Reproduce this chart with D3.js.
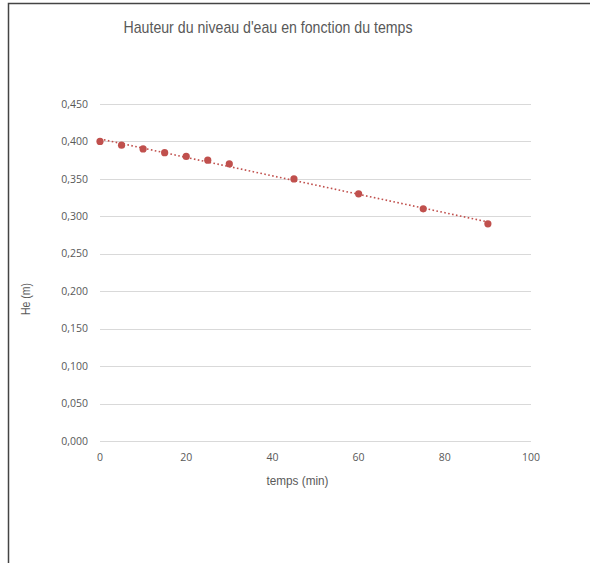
<!DOCTYPE html>
<html>
<head>
<meta charset="utf-8">
<script src="https://cdn.jsdelivr.net/npm/d3@7"></script>
<style>
  body { margin: 0; background: #fff; }
  svg { display: block; }
</style>
</head>
<body>
<svg id="chart" width="590" height="563"></svg>
<script>
// temps (min) et hauteur d'eau (m)
const temps = [0, 5, 10, 15, 20, 25, 30, 45, 60, 75, 90];
const hauteur = [0.400, 0.395, 0.390, 0.385, 0.380, 0.375, 0.370, 0.350, 0.330, 0.310, 0.290];
const xTicks = [0, 20, 40, 60, 80, 100];
const yTicks = [0, 0.05, 0.1, 0.15, 0.2, 0.25, 0.3, 0.35, 0.4, 0.45];

const svg = d3.select("#chart");
const red = "#c0504d";
const narrow = "Liberation Sans, Arial, sans-serif";

// cadre du graphique
svg.append("rect")
    .attr("x", 8.5).attr("y", 3.5)
    .attr("width", 600).attr("height", 600)
    .attr("fill", "none")
    .attr("stroke", "#444")
    .attr("stroke-width", 1.5);

const x = d3.scaleLinear().domain([0, 100]).range([100, 531]);
const y = d3.scaleLinear().domain([0, 0.45]).range([441, 104]);

// grille horizontale
svg.append("g")
    .selectAll("line")
    .data(yTicks)
    .join("line")
    .attr("x1", x(0)).attr("x2", x(100))
    .attr("y1", d => Math.round(y(d)) + 0.5)
    .attr("y2", d => Math.round(y(d)) + 0.5)
    .attr("stroke", "#d9d9d9")
    .attr("stroke-width", 1);

const fmt = d => d.toFixed(3).replace(".", ",");

svg.append("g")
    .selectAll("text")
    .data(yTicks)
    .join("text")
    .attr("x", 88)
    .attr("y", d => y(d))
    .attr("dy", "0.35em")
    .attr("text-anchor", "end")
    .attr("font-family", "Open Sans, sans-serif")
    .attr("font-size", 10.5)
    .attr("fill", "#595959")
    .text(fmt);

svg.append("g")
    .selectAll("text")
    .data(xTicks)
    .join("text")
    .attr("x", d => x(d))
    .attr("y", 457)
    .attr("dy", "0.35em")
    .attr("text-anchor", "middle")
    .attr("font-family", "Open Sans, sans-serif")
    .attr("font-size", 10.5)
    .attr("fill", "#595959")
    .text(d => d);

// titres (police étroite simulée par textLength)
svg.append("text")
    .attr("x", 268).attr("y", 33)
    .attr("text-anchor", "middle")
    .attr("font-family", narrow)
    .attr("font-size", 17)
    .attr("textLength", 289)
    .attr("lengthAdjust", "spacingAndGlyphs")
    .attr("fill", "#595959")
    .text("Hauteur du niveau d'eau en fonction du temps");

svg.append("text")
    .attr("x", 297.5).attr("y", 485)
    .attr("text-anchor", "middle")
    .attr("font-family", narrow)
    .attr("font-size", 12)
    .attr("textLength", 62)
    .attr("lengthAdjust", "spacingAndGlyphs")
    .attr("fill", "#595959")
    .text("temps (min)");

svg.append("text")
    .attr("transform", "translate(29.5,299) rotate(-90)")
    .attr("text-anchor", "middle")
    .attr("font-family", narrow)
    .attr("font-size", 12.5)
    .attr("textLength", 32)
    .attr("lengthAdjust", "spacingAndGlyphs")
    .attr("fill", "#595959")
    .text("He (m)");

// courbe de tendance linéaire (moindres carrés)
const mx = d3.mean(temps), my = d3.mean(hauteur);
const slope = d3.sum(temps, (t, i) => (t - mx) * (hauteur[i] - my)) /
              d3.sum(temps, t => (t - mx) * (t - mx));
const inter = my - slope * mx;
const tMin = d3.min(temps), tMax = d3.max(temps);

svg.append("line")
    .attr("x1", x(tMin)).attr("y1", y(inter + slope * tMin))
    .attr("x2", x(tMax)).attr("y2", y(inter + slope * tMax))
    .attr("stroke", red)
    .attr("stroke-width", 1.6)
    .attr("stroke-dasharray", "1.6 2.4");

// points
svg.append("g")
    .selectAll("circle")
    .data(temps)
    .join("circle")
    .attr("cx", d => x(d))
    .attr("cy", (d, i) => y(hauteur[i]))
    .attr("r", 3.6)
    .attr("fill", red);
</script>
</body>
</html>
